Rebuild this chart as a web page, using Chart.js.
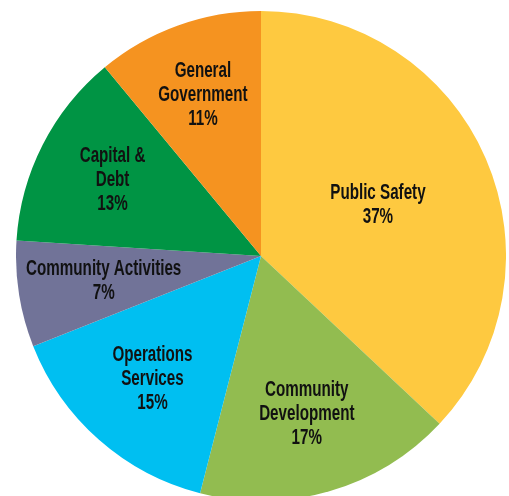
<!DOCTYPE html>
<html lang="en">
<head>
    <meta charset="UTF-8">
    <title>Budget by Service Area</title>
    <style>
        html, body { margin: 0; padding: 0; background: #fff; overflow: hidden; }
        #wrap { position: relative; width: 509px; height: 496px; overflow: hidden; }
        #pie { position: absolute; left: 16px; top: 11px; }
    </style>
</head>
<body>
    <div id="wrap">
        <canvas id="pie" width="490" height="490"></canvas>
    </div>

    <script src="https://cdn.jsdelivr.net/npm/chart.js"></script>
    <script>
    "use strict"

    // slices, clockwise from 12 o'clock
    const categories = [
        ["Public Safety"],
        ["Community", "Development"],
        ["Operations", "Services"],
        ["Community Activities"],
        ["Capital &", "Debt"],
        ["General", "Government"]
    ]
    const shares = [37, 17, 15, 7, 13, 11]

    const sliceColors = ["#fec940", "#92bc50", "#00bff1", "#717398", "#009444", "#f59320"]
    // how far out (fraction of radius) each label sits
    const labelDist = [0.52, 0.67, 0.67, 0.65, 0.68, 0.70]

    // writes the name + percent inside every slice, squeezed sideways
    const sliceLabels = {
        id: "sliceLabels",
        afterDatasetsDraw(chart) {
            const c = chart.ctx
            const meta = chart.getDatasetMeta(0)
            const squeeze = 0.69
            c.save()
            c.fillStyle = "#111"
            c.textAlign = "center"
            c.textBaseline = "middle"
            c.font = "bold 22px 'Liberation Sans', Arial, sans-serif"
            meta.data.forEach((arc, i) => {
                const mid = (arc.startAngle + arc.endAngle) / 2
                const r = arc.outerRadius * labelDist[i]
                const x = arc.x + Math.cos(mid) * r
                const y = arc.y + Math.sin(mid) * r
                const lines = categories[i].concat([shares[i] + "%"])
                const lh = 24
                const top = y - (lines.length - 1) * lh / 2
                lines.forEach((t, k) => {
                    c.save()
                    c.translate(x, top + k * lh)
                    c.scale(squeeze, 1)
                    c.fillText(t, 0, 0)
                    c.restore()
                })
            })
            c.restore()
        }
    }

    const pie = new Chart(document.getElementById("pie"), {
        type: "pie",
        data: {
            labels: categories.map(l => l.join(" ")),
            datasets: [{
                data: shares,
                backgroundColor: sliceColors,
                borderWidth: 0
            }]
        },
        options: {
            responsive: false,
            animation: false,
            layout: { padding: 0 },
            plugins: {
                legend: { display: false },
                tooltip: { enabled: false }
            }
        },
        plugins: [sliceLabels]
    })
    </script>
</body>
</html>
